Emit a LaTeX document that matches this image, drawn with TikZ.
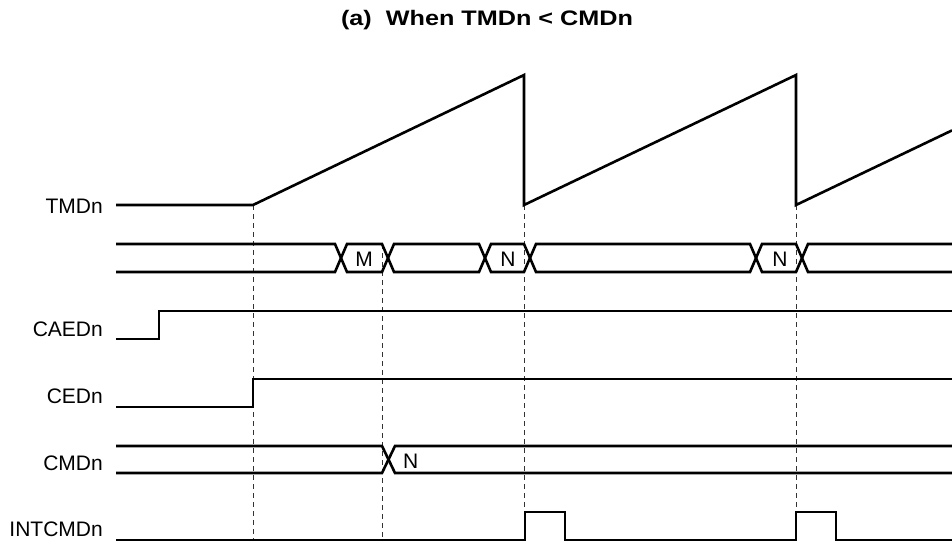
\documentclass[tikz,border=0pt]{standalone}
\usepackage{fontspec}
\setmainfont{Liberation Sans}
\begin{document}
\begin{tikzpicture}[x=1pt,y=-1pt,
  sig/.style={line width=2.6pt,line join=miter,line cap=butt},
  guide/.style={line width=0.9pt,dash pattern=on 5pt off 4pt,black!80},
  lbl/.style={font=\fontsize{21}{21}\selectfont,anchor=east,inner sep=0pt},
  val/.style={font=\fontsize{21}{21}\selectfont,inner sep=0pt}]
\useasboundingbox (0,0) rectangle (952,546);
% title
\node[font=\bfseries\fontsize{21}{21}\selectfont,xscale=1.2,transform shape,inner sep=0pt] (title) at (487,20) {(a)\ \ When TMDn < CMDn};
% labels
\node[lbl] (lTMD) at (103,206) {TMDn};
\node[lbl] (lCAED) at (103,329) {CAEDn};
\node[lbl] (lCED) at (103,396) {CEDn};
\node[lbl] (lCMD) at (103,463) {CMDn};
\node[lbl] (lINT) at (103,529) {INTCMDn};
% guides
\draw[guide] (253,205) -- (253,540);
\draw[guide] (382,244) -- (382,540);
\draw[guide] (524,205) -- (524,512);
\draw[guide] (796,205) -- (796,512);
% TMDn
\draw[sig] (116,205) -- (253,205) -- (524,75) -- (524,205) -- (796,75) -- (796,205) -- (952,130.4);
% bus
\draw[sig] (116,244) -- (335,244) -- (341,258) -- (335,272) -- (116,272);
\draw[sig] (341,258) -- (347,244) -- (382,244) -- (388,258) -- (382,272) -- (347,272) -- cycle;
\draw[sig] (388,258) -- (394,244) -- (479,244) -- (485,258) -- (479,272) -- (394,272) -- cycle;
\draw[sig] (485,258) -- (491,244) -- (524,244) -- (530,258) -- (524,272) -- (491,272) -- cycle;
\draw[sig] (530,258) -- (536,244) -- (750,244) -- (756,258) -- (750,272) -- (536,272) -- cycle;
\draw[sig] (756,258) -- (762,244) -- (796,244) -- (802,258) -- (796,272) -- (762,272) -- cycle;
\draw[sig] (952,244) -- (808,244) -- (802,258) -- (808,272) -- (952,272);
\node[val] (vM) at (364,259) {M};
\node[val] (vN1) at (508,259) {N};
\node[val] (vN2) at (780,259) {N};
% CAEDn
\draw[sig] (116,339) -- (159,339) -- (159,311) -- (952,311);
% CEDn
\draw[sig] (116,407) -- (253,407) -- (253,379) -- (952,379);
% CMDn
\draw[sig] (116,446) -- (382,446) -- (388.5,459.5) -- (382,473) -- (116,473);
\draw[sig] (952,446) -- (395,446) -- (388.5,459.5) -- (395,473) -- (952,473);
\node[val,anchor=west] (vN3) at (403,461) {N};
% INTCMDn
\draw[sig] (116,540) -- (525,540) -- (525,512) -- (565,512) -- (565,540) -- (796,540) -- (796,512) -- (836,512) -- (836,540) -- (952,540);
\end{tikzpicture}
\end{document}
